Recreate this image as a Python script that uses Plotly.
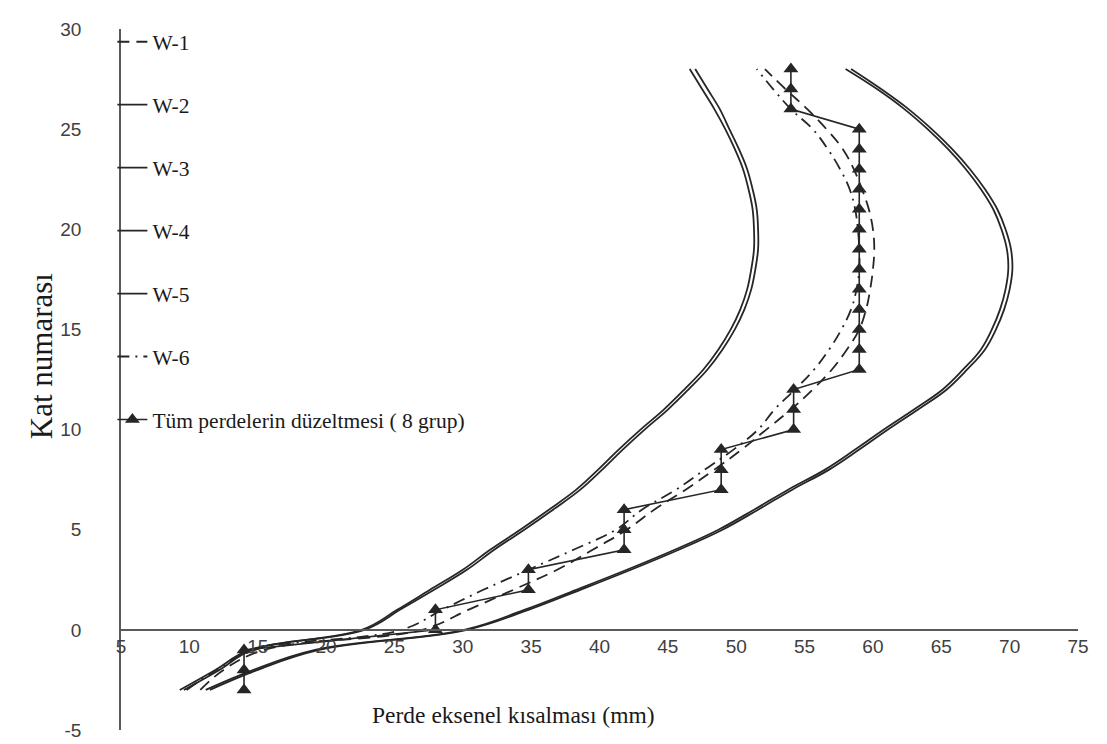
import plotly.graph_objects as go

# Floor numbers (Kat numarası)
floors = list(range(-3, 29))

# Axial shortening values (mm) per floor
w1 = [10.8, 12.5, 15.5, 27.0, 30.4, 33.7, 36.9, 39.5, 42.0, 44.0, 46.3, 48.4, 50.4, 52.2, 54.0, 55.6,
      57.0, 58.1, 59.0, 59.5, 59.8, 60.0, 60.1, 60.0, 59.7, 59.2, 58.6, 57.8, 56.6, 55.2, 53.6, 52.1]
w2 = [9.3, 11.9, 14.4, 22.6, 25.2, 27.6, 30.0, 32.0, 34.2, 36.3, 38.3, 39.9, 41.4, 43.0, 44.7, 46.2,
      47.6, 48.7, 49.6, 50.3, 50.8, 51.1, 51.3, 51.3, 51.2, 50.9, 50.5, 49.9, 49.2, 48.4, 47.5, 46.6]
w3 = [9.6, 12.2, 14.6, 22.8, 25.4, 27.9, 30.3, 32.3, 34.5, 36.6, 38.6, 40.2, 41.7, 43.3, 45.0, 46.5,
      47.9, 49.0, 49.9, 50.6, 51.1, 51.4, 51.6, 51.6, 51.5, 51.2, 50.8, 50.2, 49.5, 48.8, 47.9, 47.0]
w4 = [11.5, 15.0, 19.5, 30.3, 34.8, 38.6, 42.3, 45.8, 49.0, 51.6, 54.1, 56.8, 59.0, 61.1, 63.3, 65.4,
      66.9, 68.2, 69.0, 69.6, 70.0, 70.2, 70.1, 69.7, 69.1, 68.2, 67.1, 65.8, 64.3, 62.6, 60.6, 58.4]
w5 = [11.2, 14.7, 19.2, 30.1, 34.5, 38.3, 42.0, 45.5, 48.7, 51.3, 53.8, 56.5, 58.7, 60.8, 63.0, 65.1,
      66.6, 67.9, 68.7, 69.3, 69.7, 69.9, 69.8, 69.4, 68.8, 67.9, 66.8, 65.5, 64.0, 62.3, 60.3, 58.0]
w6 = [9.8, 12.0, 14.8, 25.5, 28.5, 31.5, 34.8, 38.1, 41.2, 43.1, 45.6, 47.7, 49.8, 51.6, 52.8, 54.3,
      55.7, 56.8, 57.7, 58.4, 58.8, 59.0, 59.0, 58.9, 58.7, 58.3, 57.6, 56.7, 55.6, 54.0, 52.7, 51.5]
group8 = [14.0, 14.0, 14.0, 28.0, 28.0, 34.8, 34.8, 41.8, 41.8, 41.8, 48.9, 48.9, 48.9, 54.2, 54.2, 54.2,
          59.0, 59.0, 59.0, 59.0, 59.0, 59.0, 59.0, 59.0, 59.0, 59.0, 59.0, 59.0, 59.0, 54.0, 54.0, 54.0]

names = ["W-1", "W-2", "W-3", "W-4", "W-5", "W-6", "Tüm perdelerin düzeltmesi ( 8 grup)"]
x_ticks = list(range(5, 80, 5))
y_ticks = list(range(-5, 35, 5))
y_tick_text = ["-5", "0", "5", "10", "15", "20", "25", "30"]

INK = "#262626"
SERIF = "Liberation Serif, Times New Roman, serif"
SANS = "Liberation Sans, Arial, sans-serif"
fig = go.Figure()

def add_curve(xs, name, dash, width=1.8):
    fig.add_trace(go.Scatter(
        x=xs, y=floors, name=name, mode="lines", legendgroup=name,
        line=dict(color=INK, width=width, dash=dash, shape="spline", smoothing=1.1),
    ))

add_curve(w1, names[0], "12px,7px")
add_curve(w2, names[1], "solid")
add_curve(w3, names[2], "solid")
add_curve(w4, names[3], "solid")
add_curve(w5, names[4], "solid")
add_curve(w6, names[5], "12px,6px,2px,6px")

fig.add_trace(go.Scatter(
    x=group8, y=floors, name=names[6], mode="lines+markers", legendgroup=names[6],
    line=dict(color=INK, width=1.6),
    marker=dict(symbol="triangle-up", size=13, color=INK),
))

fig.update_layout(
    width=1107, height=744,
    margin=dict(l=113, r=37, t=18, b=11),
    paper_bgcolor="white", plot_bgcolor="white",
    showlegend=True,
    legend=dict(
        x=-0.009, y=1.011, xanchor="left", yanchor="top", maxheight=720,
        bgcolor="rgba(0,0,0,0)", tracegroupgap=32,
        font=dict(family=SERIF, size=21.5, color="#1a1a1a"),
    ),
    xaxis=dict(
        range=[5, 75], tickmode="array", tickvals=x_ticks,
        showgrid=False, zeroline=False, showline=True, linecolor="#595959", linewidth=1.5,
        anchor="free", position=5 / 35, ticks="",
        tickfont=dict(family=SANS, size=19, color="#404040"),
    ),
    yaxis=dict(
        range=[-5, 30], tickmode="array", tickvals=y_ticks, ticktext=y_tick_text,
        showgrid=False, zeroline=False, showline=True, linecolor="#595959", linewidth=1.5,
        ticks="", ticklabelstandoff=34,
        tickfont=dict(family=SANS, size=19, color="#404040"),
    ),
    annotations=[
        dict(text="Perde eksenel kısalması (mm)", xref="paper", yref="paper",
             x=0.410, y=0.021, xanchor="center", yanchor="middle", showarrow=False,
             font=dict(family=SERIF, size=23.5, color="#1a1a1a")),
        dict(text="Kat numarası", xref="paper", yref="paper", textangle=-90,
             x=-0.083, y=0.534, xanchor="center", yanchor="middle", showarrow=False,
             font=dict(family=SERIF, size=31, color="#1a1a1a")),
    ],
)

fig.write_html("out.html")
